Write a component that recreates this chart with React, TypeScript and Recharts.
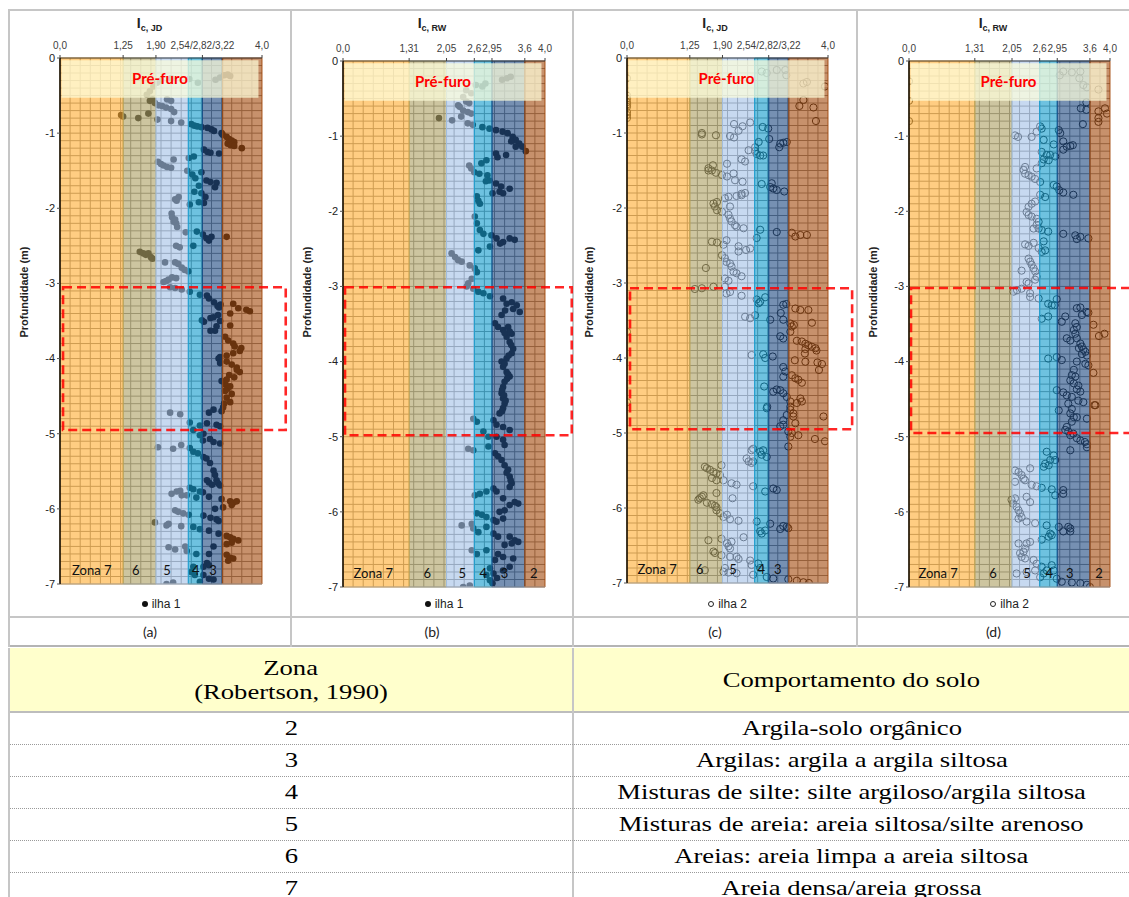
import React from "react";
import {
  ScatterChart,
  Scatter,
  XAxis,
  YAxis,
  CartesianGrid,
  ReferenceArea,
  ReferenceDot,
} from "recharts";

type Pt = [number, number];

// ilha 1, Ic (Jefferies & Davies) vs depth
const ilha1JD: Pt[] = [
  [1.85,-0.38],[1.92,-0.33],[2.0,-0.3],[2.2,-0.27],[2.56,-0.28],[2.73,-0.33],[3.08,-0.29],[3.17,-0.26],[3.25,-0.23],[3.32,-0.22],[3.37,-0.24],[1.72,-0.49],[1.78,-0.44],
  [1.78,-0.57],[1.83,-0.55],[1.88,-0.6],[1.95,-0.63],[2.02,-0.64],[2.1,-0.66],[2.2,-0.68],[2.26,-0.72],[2.12,-0.55],[2.2,-0.57],
  [1.21,-0.76],[1.25,-0.78],[1.55,-0.8],[1.75,-0.74],[1.93,-0.82],[2.2,-0.84],[2.4,-0.86],
  [2.6,-0.88],[2.66,-0.9],[2.72,-0.91],[2.8,-0.92],[2.92,-0.93],[3.0,-0.95],[3.05,-0.97],[3.2,-1.0],[3.22,-1.02],
  [3.3,-1.05],[3.35,-1.08],[3.4,-1.1],[3.45,-1.12],[3.32,-1.14],[3.38,-1.16],[3.45,-1.17],[3.6,-1.2],
  [2.85,-1.22],[2.92,-1.25],[2.98,-1.26],[3.15,-1.27],[2.55,-1.33],[2.65,-1.31],
  [1.94,-1.38],[2.0,-1.41],[2.05,-1.43],[2.12,-1.45],[2.2,-1.46],[2.25,-1.35],
  [2.52,-1.5],[2.62,-1.55],[2.68,-1.6],[2.8,-1.52],[2.9,-1.63],[2.98,-1.65],[3.1,-1.66],[3.07,-1.72],[2.75,-1.7],[2.66,-1.78],[2.8,-1.8],[2.88,-1.85],[2.35,-1.85],[2.28,-1.88],
  [2.31,-1.9],[2.57,-1.95],[2.75,-1.92],[2.85,-1.93],
  [2.21,-2.07],[2.22,-2.12],[2.25,-2.18],[2.3,-2.2],[2.32,-2.25],[2.28,-2.15],
  [2.49,-2.32],[2.71,-2.31],[2.83,-2.35],[2.9,-2.4],[2.95,-2.43],[3.0,-2.38],[3.3,-2.38],
  [2.3,-2.5],[2.37,-2.52],[2.64,-2.5],
  [1.58,-2.58],[1.65,-2.6],[1.7,-2.62],[1.75,-2.6],[1.8,-2.65],[1.83,-2.67],[2.08,-2.72],
  [2.28,-2.72],[2.34,-2.74],[2.41,-2.79],[2.47,-2.82],[2.54,-2.84],
  [2.05,-2.98],[2.1,-2.97],[2.15,-2.95],[2.22,-2.92],[2.3,-2.93],
  [2.18,-3.05],[2.28,-3.06],[2.41,-3.08],[2.57,-3.11],[2.77,-3.15],
  [2.91,-3.16],[2.95,-3.2],[3.05,-3.25],[3.12,-3.3],[3.15,-3.32],[3.18,-3.28],
  [3.43,-3.27],[3.53,-3.33],[3.69,-3.35],[3.76,-3.37],[3.37,-3.4],
  [2.81,-3.49],[2.85,-3.51],[2.98,-3.46],[3.04,-3.45],[3.1,-3.57],[3.07,-3.63],[2.98,-3.63],[3.13,-3.42],[3.17,-3.5],[3.37,-3.56],
  [3.27,-3.71],[3.33,-3.76],[3.43,-3.8],[3.46,-3.84],[3.59,-3.86],[3.56,-3.9],[3.43,-3.93],[3.3,-3.96],[3.17,-3.98],
  [3.14,-4.0],[3.17,-4.06],[3.3,-4.04],[3.4,-4.08],[3.5,-4.12],[3.56,-4.18],[3.5,-4.15],
  [3.35,-4.22],[3.45,-4.25],[3.28,-4.35],[3.32,-4.4],[3.25,-4.6],
  [3.2,-4.3],[3.3,-4.28],[3.37,-4.37],[3.27,-4.43],[3.4,-4.47],[3.3,-4.52],[3.37,-4.58],[3.23,-4.65],[3.2,-4.7],[3.04,-4.68],[2.95,-4.72],[2.38,-4.74],[2.18,-4.72],
  [2.57,-4.85],[2.77,-4.89],[2.91,-4.86],[3.1,-4.88],[3.17,-4.9],[2.64,-4.95],[2.84,-5.0],
  [2.77,-5.02],[2.83,-5.09],[2.97,-5.07],[3.04,-5.11],[3.17,-5.13],[1.94,-5.18],[2.24,-5.2],[2.4,-5.15],
  [2.57,-5.19],[2.64,-5.24],[2.73,-5.26],[2.84,-5.31],[2.9,-5.33],[2.97,-5.39],[3.04,-5.49],[3.07,-5.55],[3.1,-5.62],[3.13,-5.66],[3.17,-5.69],[2.91,-5.62],[2.95,-5.65],[3.01,-5.68],
  [2.57,-5.72],[2.64,-5.74],[2.77,-5.77],[2.83,-5.78],[2.51,-5.82],[2.21,-5.8],[2.31,-5.77],[2.38,-5.76],[2.41,-5.82],[2.7,-5.85],[2.95,-5.84],[3.2,-5.87],[3.37,-5.9],[3.43,-5.92],[3.5,-5.9],[3.4,-5.95],[3.23,-5.98],
  [2.28,-6.02],[2.34,-6.04],[2.44,-6.06],[2.55,-6.08],[2.84,-6.09],[2.98,-6.12],[3.07,-6.0],[3.1,-6.14],[3.14,-6.16],
  [1.88,-6.18],[2.15,-6.2],[2.11,-6.22],[2.4,-6.23],[2.64,-6.24],[2.77,-6.27],[2.95,-6.29],[3.14,-6.33],[3.3,-6.36],[3.37,-6.38],[3.43,-6.4],[3.53,-6.42],[3.4,-6.45],[3.3,-6.47],
  [2.15,-6.51],[2.28,-6.54],[2.48,-6.5],[2.51,-6.56],[2.7,-6.6],[2.95,-6.6],[3.04,-6.5],[3.3,-6.61],[3.37,-6.65],[3.43,-6.66],[3.33,-6.69],
  [2.91,-6.72],[2.95,-6.75],[2.84,-6.77],[2.64,-6.77],[2.6,-6.84],[2.67,-6.88],[2.84,-6.88],[2.95,-6.93],[3.04,-6.94],[2.77,-6.97],[2.11,-7.0],[2.24,-6.98],
];

// ilha 1, Ic (Robertson & Wride) vs depth
const ilha1RW: Pt[] = [
  [2.38,-0.48],[2.44,-0.39],[2.63,-0.32],[2.76,-0.34],[2.82,-0.3],[3.15,-0.25],[3.25,-0.23],[3.32,-0.21],[2.54,-0.43],
  [2.28,-0.59],[2.31,-0.61],[2.38,-0.66],[2.44,-0.54],[2.5,-0.56],[2.47,-0.68],[2.54,-0.7],[2.34,-0.74],[1.9,-0.76],[2.16,-0.79],
  [2.47,-0.83],[2.57,-0.85],[2.76,-0.88],[2.9,-0.9],[3.03,-0.92],[3.16,-0.94],[3.26,-0.96],[3.36,-1.01],[3.42,-1.05],[3.49,-1.1],[3.55,-1.14],[3.62,-1.2],[3.33,-1.07],[3.42,-1.14],
  [3.03,-1.23],[3.06,-1.28],[3.23,-1.25],[2.74,-1.36],[2.84,-1.32],[2.5,-1.39],[2.54,-1.43],[2.6,-1.48],[2.7,-1.5],[2.86,-1.52],[2.9,-1.59],[3.03,-1.63],[3.13,-1.67],[3.3,-1.7],[3.1,-1.74],[2.96,-1.76],[2.83,-1.6],
  [3.17,-1.76],[2.65,-1.8],[2.68,-1.86],[2.71,-1.9],
  [2.61,-2.07],[2.65,-2.16],[2.71,-2.25],[2.78,-2.3],[2.94,-2.32],[3.04,-2.36],[3.17,-2.41],[3.3,-2.36],[3.4,-2.38],[3.11,-2.43],[2.68,-2.52],[2.91,-2.47],
  [2.15,-2.56],[2.22,-2.61],[2.28,-2.65],[2.35,-2.67],[2.51,-2.72],[2.61,-2.76],[2.65,-2.81],[2.55,-2.9],[2.48,-2.96],[2.45,-3.0],[2.58,-3.03],[2.68,-3.07],[2.78,-3.09],[2.91,-3.13],
  [3.17,-3.16],[3.24,-3.23],[3.34,-3.21],[3.44,-3.25],[3.5,-3.34],[3.37,-3.3],[3.21,-3.32],[3.14,-3.38],[3.01,-3.49],[3.07,-3.54],[3.17,-3.58],[3.27,-3.54],[3.34,-3.63],[3.24,-3.67],[3.3,-3.74],[3.37,-3.83],[3.34,-3.89],[3.24,-3.96],[3.14,-4.0],[3.17,-4.07],[3.24,-4.14],[3.3,-4.2],[3.2,-4.27],[3.17,-4.34],[3.14,-4.42],[3.17,-4.49],[3.2,-4.56],[3.17,-4.62],[3.1,-4.69],
  [3.33,-3.78],[3.28,-3.92],[3.2,-4.03],[3.27,-4.17],[3.25,-4.23],[3.15,-4.38],[3.19,-4.45],[3.22,-4.52],[3.15,-4.66],[3.3,-3.6],[3.2,-3.62],
  [2.58,-4.76],[2.65,-4.8],[2.98,-4.78],[3.04,-4.84],[3.17,-4.87],[3.3,-4.91],[2.78,-4.93],[2.88,-5.0],[3.04,-5.0],[3.17,-5.04],[3.2,-5.11],[2.48,-5.16],[2.58,-5.18],[2.88,-5.13],
  [3.01,-5.22],[3.07,-5.26],[3.14,-5.31],[3.2,-5.38],[3.27,-5.44],[3.3,-5.53],[3.34,-5.62],[3.3,-5.67],[3.24,-5.48],[3.32,-5.58],
  [2.61,-5.78],[2.71,-5.76],[2.84,-5.73],[2.98,-5.69],[3.04,-5.73],[3.17,-5.82],[3.3,-5.91],[3.4,-5.87],[3.47,-5.89],[3.1,-6.0],[3.2,-5.98],[2.65,-6.02],[2.75,-6.04],[2.84,-6.07],[2.98,-6.11],[3.04,-6.13],[3.17,-6.09],
  [2.35,-6.18],[2.55,-6.16],[2.58,-6.22],[2.68,-6.27],[2.84,-6.2],[2.98,-6.29],[3.07,-6.33],[3.3,-6.33],[3.4,-6.38],[3.47,-6.4],[3.34,-6.42],[3.2,-6.44],[2.84,-6.51],[2.65,-6.56],[2.55,-6.51],[3.07,-6.56],[3.17,-6.6],[3.37,-6.62],[3.01,-6.64],[2.91,-6.75],[2.98,-6.82],[2.84,-6.84],[2.91,-6.91],[2.38,-7.0],[2.51,-6.98],[3.17,-6.78],[3.3,-6.73],[3.05,-6.88],[2.96,-6.95],
];

// ilha 2, Ic (Jefferies & Davies) vs depth
const ilha2JD: Pt[] = [
  [0,-0.27],[0,-0.5],[0,-0.54],[0,-0.59],[0,-0.65],[0,-0.72],[0,-0.76],[0,-0.8],[0,-0.62],
  [2.68,-0.18],[2.78,-0.2],[2.98,-0.16],[3.15,-0.16],[3.17,-0.23],[3.51,-0.34],[3.58,-0.32],[3.94,-0.38],
  [3.51,-0.56],[3.43,-0.64],[3.71,-0.66],[3.76,-0.84],
  [2.13,-0.88],[2.3,-0.91],[2.45,-0.86],[2.7,-0.92],[2.81,-0.94],[2.22,-0.97],[1.49,-1.0],[1.49,-1.02],[1.77,-1.03],[2.05,-1.04],[2.13,-1.06],[2.83,-1.08],[2.62,-1.12],[3.05,-1.14],[3.11,-1.13],[3.18,-1.12],[3.03,-1.19],[2.55,-1.19],[2.42,-1.23],[2.55,-1.24],[2.58,-1.28],[2.65,-1.3],[2.71,-1.3],[2.28,-1.35],[2.35,-1.38],[1.99,-1.41],[1.71,-1.43],[1.62,-1.47],[1.62,-1.5],[1.69,-1.5],[1.77,-1.53],[1.89,-1.56],[1.99,-1.58],[2.12,-1.54],[2.15,-1.63],[2.3,-1.65],[2.68,-1.68],[2.88,-1.67],[2.85,-1.72],[2.98,-1.76],[3.13,-1.78],[2.91,-1.74],[2.35,-1.8],[2.28,-1.83],
  [1.95,-1.87],[2.02,-1.85],[2.18,-1.84],[2.28,-1.81],[1.72,-1.94],[1.79,-1.92],[1.75,-1.98],[1.79,-2.03],[1.89,-2.05],[2.05,-1.98],[2.02,-2.09],[2.05,-2.14],[2.08,-2.18],[2.15,-2.23],[2.18,-2.25],[2.32,-2.27],[2.65,-2.29],[2.98,-2.32],[3.28,-2.33],[3.35,-2.38],[3.45,-2.36],[3.58,-2.36],[2.58,-2.4],[1.98,-2.43],[1.69,-2.45],[1.79,-2.46],[2.22,-2.51],[2.22,-2.58],[2.37,-2.56],[2.45,-2.54],[1.92,-2.49],[1.89,-2.63],[1.95,-2.67],[1.98,-2.72],[2.05,-2.74],[2.08,-2.78],[2.12,-2.85],[2.18,-2.87],[2.28,-2.91],[1.57,-2.8],[1.95,-2.94],[2.02,-2.97],[1.95,-3.05],[1.98,-3.14],[2.05,-3.12],[2.28,-3.17],[1.35,-3.08],[1.49,-3.07],[1.72,-3.05],
  [2.58,-3.22],[2.65,-3.25],[2.62,-3.27],[2.75,-3.19],[2.35,-3.45],[2.45,-3.47],[2.55,-3.43],[2.85,-3.49],[3.11,-3.29],[3.17,-3.28],[3.06,-3.4],[3.11,-3.49],[3.25,-3.54],[3.28,-3.58],[3.32,-3.56],[3.35,-3.34],[3.45,-3.36],[3.61,-3.36],[3.68,-3.53],[3.05,-3.71],[3.11,-3.74],[3.25,-3.65],[3.38,-3.77],[3.48,-3.78],[3.55,-3.81],[3.61,-3.83],[3.68,-3.85],[3.75,-3.87],[3.77,-3.9],[3.55,-3.88],[3.54,-3.94],[3.34,-4.03],[3.55,-4.05],[3.79,-4.06],[3.88,-4.08],[3.82,-4.16],[2.48,-3.96],[2.71,-3.95],[2.9,-3.98],[2.75,-4.0],[3.11,-4.12],[3.15,-4.18],[3.11,-4.25],[3.28,-4.23],[3.35,-4.27],[3.41,-4.29],[3.48,-4.33],[2.73,-4.38],[2.91,-4.45],[2.98,-4.42],[3.05,-4.43],[3.11,-4.47],[3.18,-4.52],[3.25,-4.58],[3.45,-4.54],[3.48,-4.58],[2.78,-4.67],[3.25,-4.65],[3.91,-4.78],[0,-3.65],[0,-4.59],
  [2.79,-4.65],[3.11,-4.83],[3.18,-4.76],[3.25,-4.69],[3.31,-4.74],[3.38,-4.6],[3.31,-4.78],[3.35,-4.87],[3.11,-4.89],[3.05,-4.91],[3.21,-4.98],[3.25,-5.05],[3.28,-5.0],[3.41,-5.03],[3.21,-5.18],[3.74,-5.08],[3.94,-5.11],
  [2.48,-5.23],[2.51,-5.21],[2.65,-5.25],[2.68,-5.29],[2.71,-5.23],[2.78,-5.32],[2.38,-5.34],[2.42,-5.38],[2.48,-5.4],[2.51,-5.38],
  [1.55,-5.45],[1.59,-5.47],[1.65,-5.49],[1.72,-5.52],[1.78,-5.54],[1.85,-5.56],[1.88,-5.43],[1.92,-5.63],[1.69,-5.6],[1.78,-5.63],[2.08,-5.67],[2.18,-5.69],[2.1,-5.87],[2.51,-5.71],[2.75,-5.78],[2.91,-5.74],[2.98,-5.76],[1.78,-5.8],[1.49,-5.85],[1.52,-5.83],[1.42,-5.89],[1.45,-5.87],[1.59,-5.93],[1.69,-5.95],[1.75,-5.97],[1.78,-5.99],[1.78,-6.03],[1.85,-6.07],[1.92,-6.12],[1.99,-6.09],[2.05,-6.15],[2.22,-6.17],[2.32,-6.39],[2.58,-6.18],[2.65,-6.31],[2.68,-6.34],[2.75,-6.3],[2.85,-6.21],[3.11,-6.24],[3.18,-6.25],[3.05,-6.28],[3.21,-6.27],
  [1.62,-6.43],[1.88,-6.41],[1.99,-6.47],[2.02,-6.51],[2.05,-6.54],[2.08,-6.45],[1.72,-6.58],[1.75,-6.6],[1.88,-6.63],[2.05,-6.65],[2.18,-6.65],[2.22,-6.68],[2.45,-6.7],[2.48,-6.76],[2.61,-6.74],[2.65,-6.8],[2.18,-6.87],[2.02,-6.86],[1.92,-6.85],[1.95,-6.8],[1.55,-6.83],[2.51,-6.89],[2.78,-6.92],[2.91,-6.94],[3.21,-6.95],[3.38,-6.97],[3.51,-6.99],[3.62,-7.0],
];

// ilha 2, Ic (Robertson & Wride) vs depth
const ilha2RW: Pt[] = [
  [0,-0.27],[0,-0.53],[0,-0.8],
  [3.0,-0.19],[3.07,-0.14],[3.24,-0.15],[3.41,-0.14],[3.39,-0.23],[3.47,-0.32],[3.54,-0.35],[3.77,-0.38],
  [3.53,-0.55],[3.42,-0.63],[3.53,-0.65],[3.77,-0.67],[3.9,-0.63],[3.94,-0.7],[3.77,-0.76],[3.77,-0.81],[3.46,-0.84],
  [2.61,-0.87],[2.64,-0.9],[2.54,-0.94],[2.44,-1.01],[2.11,-0.99],[2.17,-1.01],[2.68,-1.05],[2.98,-0.92],[3.01,-0.96],[3.07,-1.07],[3.14,-1.14],[3.21,-1.13],[3.26,-1.12],[3.07,-1.18],[2.88,-1.11],[2.64,-1.21],[2.74,-1.25],[2.81,-1.25],[2.91,-1.27],[2.68,-1.31],[2.78,-1.32],[2.64,-1.36],[2.54,-1.43],[2.31,-1.41],[2.28,-1.45],[2.31,-1.5],[2.38,-1.52],[2.44,-1.54],[2.51,-1.57],[2.61,-1.61],[2.88,-1.65],[2.94,-1.67],[2.99,-1.72],[3.07,-1.75],[3.27,-1.78],[2.61,-1.78],
  [2.71,-1.81],[2.51,-1.87],[2.44,-1.9],[2.38,-1.94],[2.34,-2.01],[2.38,-2.05],[2.44,-2.07],[2.54,-2.1],[2.58,-2.14],[2.54,-2.18],[2.58,-2.23],[2.48,-2.23],[2.64,-2.25],[2.77,-2.27],[3.07,-2.3],[3.31,-2.32],[3.34,-2.37],[3.41,-2.34],[3.57,-2.36],[2.68,-2.4],[2.48,-2.42],[2.31,-2.44],[2.38,-2.46],[2.58,-2.49],[2.64,-2.54],[2.71,-2.52],[2.38,-2.63],[2.41,-2.67],[2.44,-2.71],[2.48,-2.76],[2.51,-2.8],[2.54,-2.87],[2.51,-2.91],[2.24,-2.79],[2.34,-2.94],[2.38,-2.96],[2.08,-3.07],[2.15,-3.05],[2.24,-3.03],[2.41,-3.09],[2.41,-3.14],[2.58,-3.16],[2.77,-3.23],[2.84,-3.25],[2.94,-3.17],[2.9,-3.25],[2.64,-3.43],[2.77,-3.4],[3.04,-3.47],[3.11,-3.4],[3.34,-3.29],[3.41,-3.28],[3.44,-3.38],[3.54,-3.34],[3.57,-3.35],[3.31,-3.49],[3.34,-3.54],[3.28,-3.58],[3.31,-3.63],[3.14,-3.69],[3.21,-3.72],[3.34,-3.69],[3.41,-3.76],[3.44,-3.8],[3.47,-3.84],[3.51,-3.87],[3.54,-3.92],[3.44,-3.9],[3.38,-3.82],[3.67,-3.51],[3.78,-3.66],[3.89,-3.63],[2.77,-3.96],[2.94,-3.94],[3.04,-3.98],[3.34,-4.0],[3.51,-4.03],[3.57,-4.05],[3.28,-4.11],[3.24,-4.18],[3.31,-4.2],[3.21,-4.25],[3.28,-4.29],[3.37,-4.32],[3.34,-4.37],[3.41,-4.4],[3.67,-4.15],[2.94,-4.38],[3.07,-4.41],[3.14,-4.45],[3.24,-4.47],[3.37,-4.52],[3.47,-4.54],[3.69,-4.58],[2.98,-4.65],[3.21,-4.69],[3.28,-4.74],[3.54,-4.76],
  [3.17,-4.56],[3.24,-4.63],[3.34,-4.74],[3.24,-4.8],[3.14,-4.87],[3.11,-4.91],[3.17,-4.93],[3.21,-4.98],[3.27,-4.96],[3.34,-5.02],[3.41,-5.05],[3.5,-5.07],[3.54,-5.14],[3.71,-4.58],[3.21,-5.18],[3.54,-5.1],
  [2.74,-5.2],[2.88,-5.25],[2.91,-5.31],[2.81,-5.31],[2.71,-5.36],[2.78,-5.38],[2.68,-5.4],[2.41,-5.42],[2.11,-5.45],[2.18,-5.47],[2.24,-5.51],[2.28,-5.56],[2.31,-5.58],[2.11,-5.6],[2.44,-5.64],[2.54,-5.66],[2.64,-5.68],[2.84,-5.7],[3.07,-5.71],[3.07,-5.76],[2.91,-5.78],[2.34,-5.8],[2.41,-5.87],[2.04,-5.84],[2.07,-5.89],[2.11,-5.82],[2.14,-5.93],[2.18,-5.98],[2.21,-6.02],[2.24,-6.07],[2.18,-6.09],[2.34,-6.13],[2.51,-6.15],[2.74,-6.18],[2.98,-6.2],[3.07,-6.26],[3.17,-6.2],[3.21,-6.22],[3.21,-6.26],[2.64,-6.37],[2.78,-6.33],[2.81,-6.29],[2.84,-6.31],[2.41,-6.4],[2.34,-6.42],[2.18,-6.42],[2.31,-6.49],[2.28,-6.53],[2.21,-6.55],[2.24,-6.6],[2.31,-6.62],[2.48,-6.64],[2.54,-6.69],[2.64,-6.73],[2.74,-6.78],[2.84,-6.71],[2.88,-6.78],[2.68,-6.82],[2.61,-6.87],[2.51,-6.78],[2.14,-6.82],[2.34,-6.8],[2.94,-6.89],[3.04,-6.93],[3.24,-6.94],[3.41,-6.95],[3.54,-6.97],[3.6,-7.0],
];

// zone limits (zona 7 .. zona 2)
const jdLimits = [0, 1.25, 1.9, 2.54, 2.82, 3.22, 4.0];
const rwLimits = [0, 1.31, 2.05, 2.6, 2.95, 3.6, 4.0];
const zoneFills = ["#FFAB2E", "#AB9E61", "#A1BFE6", "#0E9ACB", "#1A467E", "#A1480A"];
const zoneNames = ["Zona 7", "6", "5", "4", "3", "2"];

const jdTicks = [0, 1.25, 1.9, 2.82, 4.0];
const jdTickLabels = ["0,0", "1,25", "1,90", "2,54/2,82/3,22", "4,0"];
const rwTicks = [0, 1.31, 2.05, 2.6, 2.95, 3.6, 4.0];
const rwTickLabels = ["0,0", "1,31", "2,05", "2,6", "2,95", "3,6", "4,0"];
const depthTicks = [0, -1, -2, -3, -4, -5, -6, -7];

// where the zone names sit (Ic), one list per panel
const zoneLabelA = [0.63, 1.5, 2.12, 2.69, 3.03];
const zoneLabelB = [0.6, 1.67, 2.36, 2.78, 3.2, 3.78];
const zoneLabelC = [0.6, 1.45, 2.11, 2.67, 3.0];
const zoneLabelD = [0.58, 1.67, 2.35, 2.79, 3.2, 3.78];

// pre-drilled zone and the dashed study window (Ic range, depth range)
const preFuro = { x: [0.03, 3.93], z: [-0.53, -0.03] };
const boxA = { x: [0.06, 4.47], z: [-4.95, -3.05] };
const boxB = { x: [0.04, 4.53], z: [-4.98, -3.01] };
const boxC = { x: [0.06, 4.48], z: [-4.95, -3.07] };
const boxD = { x: [0.04, 4.7], z: [-4.95, -3.02] };

const gridIc = Array.from({ length: 19 }, (_, i) => (i + 1) * 0.2);
const gridZ = Array.from({ length: 69 }, (_, i) => -(i + 1) * 0.1);

const sans = "'Liberation Sans', Arial, sans-serif";
const calibri = "Lato, 'Open Sans', sans-serif";
const serif = "'Liberation Serif', 'Times New Roman', serif";

type PanelCfg = {
  left: number;
  width: number;
  topH: number;
  yW: number;
  botH: number;
  right: number;
  data: Pt[];
  limits: number[];
  ticks: number[];
  tickLabels: string[];
  hollow: boolean;
  sub: string;
  legend: string;
  caption: string;
  labels: number[];
  box: { x: number[]; z: number[] };
};

const panels: PanelCfg[] = [
  { left: 8, width: 283, topH: 48, yW: 52, botH: 33, right: 29, data: ilha1JD, limits: jdLimits, ticks: jdTicks, tickLabels: jdTickLabels, hollow: false, sub: "c, JD", legend: "ilha 1", caption: "(a)", labels: zoneLabelA, box: boxA },
  { left: 291, width: 282, topH: 51, yW: 52, botH: 30, right: 28, data: ilha1RW, limits: rwLimits, ticks: rwTicks, tickLabels: rwTickLabels, hollow: false, sub: "c, RW", legend: "ilha 1", caption: "(b)", labels: zoneLabelB, box: boxB },
  { left: 573, width: 284, topH: 48, yW: 54, botH: 34, right: 29, data: ilha2JD, limits: jdLimits, ticks: jdTicks, tickLabels: jdTickLabels, hollow: true, sub: "c, JD", legend: "ilha 2", caption: "(c)", labels: zoneLabelC, box: boxC },
  { left: 857, width: 272, topH: 51, yW: 52, botH: 30, right: 19, data: ilha2RW, limits: rwLimits, ticks: rwTicks, tickLabels: rwTickLabels, hollow: true, sub: "c, RW", legend: "ilha 2", caption: "(d)", labels: zoneLabelD, box: boxD },
];

const rows = [
  ["2", "Argila-solo orgânico"],
  ["3", "Argilas: argila a argila siltosa"],
  ["4", "Misturas de silte: silte argiloso/argila siltosa"],
  ["5", "Misturas de areia: areia siltosa/silte arenoso"],
  ["6", "Areias: areia limpa a areia siltosa"],
  ["7", "Areia densa/areia grossa"],
];

const H = 607;

function Panel({ cfg }: { cfg: PanelCfg }) {
  const data = cfg.data.map(([ic, z]) => ({ ic, z }));
  const plotL = cfg.yW;
  const plotR = cfg.width - cfg.right;
  const plotW = plotR - plotL;

  const vGen = (p: any) => {
    const ax = p?.xAxis;
    if (ax && typeof ax.scale === "function") return gridIc.map((v) => ax.scale(v));
    const o = p.offset;
    return gridIc.map((v) => o.left + (v / 4) * o.width);
  };
  const hGen = (p: any) => {
    const ax = p?.yAxis;
    if (ax && typeof ax.scale === "function") return gridZ.map((v) => ax.scale(v));
    const o = p.offset;
    return gridZ.map((v) => o.top + (-v / 7) * o.height);
  };

  const shape = (p: any) =>
    cfg.hollow ? (
      <circle cx={p.cx} cy={p.cy} r={3.6} fill="none" stroke="#1a1a1a" strokeWidth={1} />
    ) : (
      <circle cx={p.cx} cy={p.cy} r={3.3} fill="#141414" />
    );

  return (
    <div style={{ position: "absolute", left: cfg.left, top: 10, width: cfg.width, height: H }}>
      <ScatterChart width={cfg.width} height={H} margin={{ top: 0, right: cfg.right, bottom: 0, left: 0 }}>
        <CartesianGrid
          xAxisId="top"
          stroke="#858585"
          strokeWidth={1}
          verticalCoordinatesGenerator={vGen}
          horizontalCoordinatesGenerator={hGen}
        />
        <XAxis
          xAxisId="top"
          type="number"
          dataKey="ic"
          orientation="top"
          domain={[0, 4]}
          allowDataOverflow
          ticks={cfg.ticks}
          interval={0}
          tickFormatter={(v: number) => cfg.tickLabels[cfg.ticks.indexOf(v)] ?? ""}
          height={cfg.topH}
          axisLine={{ stroke: "#404040" }}
          tickLine={{ stroke: "#404040" }}
          tickSize={3}
          tickMargin={6}
          tick={{ fontSize: 10, fill: "#404040", fontFamily: sans }}
          zIndex={850}
        />
        <XAxis
          xAxisId="bot"
          type="number"
          orientation="bottom"
          domain={[0, 4]}
          allowDataOverflow
          ticks={cfg.limits}
          interval={0}
          tick={false}
          tickSize={4}
          height={cfg.botH}
          axisLine={{ stroke: "#a0a0a0" }}
          tickLine={{ stroke: "#a0a0a0" }}
          zIndex={850}
        />
        <YAxis
          type="number"
          dataKey="z"
          domain={[-7, 0]}
          allowDataOverflow
          ticks={depthTicks}
          interval={0}
          width={cfg.yW}
          axisLine={{ stroke: "#000", strokeWidth: 1.5 }}
          tickLine={{ stroke: "#555" }}
          tickSize={3}
          tick={{ fontSize: 11, fill: "#222", fontFamily: sans }}
          zIndex={850}
        />
        <Scatter xAxisId="top" data={data} shape={shape} isAnimationActive={false} />
        {cfg.limits.slice(0, -1).map((x1, i) => (
          <ReferenceArea
            key={"z" + i}
            xAxisId="top"
            x1={x1}
            x2={cfg.limits[i + 1]}
            y1={-7}
            y2={0}
            fill={zoneFills[i]}
            fillOpacity={0.6}
            stroke={zoneFills[i]}
            strokeOpacity={0.9}
            strokeWidth={1}
            zIndex={650}
          />
        ))}
        <ReferenceArea
          xAxisId="top"
          x1={preFuro.x[0]}
          x2={preFuro.x[1]}
          y1={preFuro.z[0]}
          y2={preFuro.z[1]}
          fill="#FFFFDC"
          fillOpacity={0.7}
          stroke="none"
          zIndex={700}
          label={{ value: "Pré-furo", position: "center", fill: "#FF0000", fontSize: 15, fontWeight: 700, fontFamily: calibri }}
        />
        <ReferenceArea
          xAxisId="top"
          x1={cfg.box.x[0]}
          x2={cfg.box.x[1]}
          y1={cfg.box.z[0]}
          y2={cfg.box.z[1]}
          ifOverflow="visible"
          fill="none"
          fillOpacity={0}
          stroke="#FF0000"
          strokeOpacity={0.85}
          strokeWidth={2.6}
          strokeDasharray="9 5"
          zIndex={800}
        />
        {cfg.labels.map((x, i) => (
          <ReferenceDot
            key={"l" + i}
            xAxisId="top"
            x={x}
            y={-6.82}
            r={0}
            fill="none"
            stroke="none"
            zIndex={900}
            label={{ value: zoneNames[i], position: "center", fill: "#111", fontSize: 13, fontFamily: calibri }}
          />
        ))}
      </ScatterChart>

      <div
        style={{
          position: "absolute",
          top: 4,
          left: 0,
          width: cfg.width,
          textAlign: "center",
          fontFamily: sans,
          fontWeight: 700,
          fontSize: 14,
          color: "#222",
          lineHeight: "18px",
        }}
      >
        I<sub style={{ fontSize: 9, verticalAlign: "-3px" }}>{cfg.sub}</sub>
      </div>

      <div
        style={{
          position: "absolute",
          left: 16 - 100,
          top: 282 - 8,
          width: 200,
          height: 16,
          lineHeight: "16px",
          textAlign: "center",
          transform: "rotate(-90deg)",
          fontFamily: sans,
          fontWeight: 700,
          fontSize: 11,
          color: "#222",
        }}
      >
        Profundidade (m)
      </div>

      <div
        style={{
          position: "absolute",
          left: plotL,
          width: plotW,
          top: 586,
          height: 16,
          display: "flex",
          justifyContent: "center",
          alignItems: "center",
          fontFamily: sans,
          fontSize: 12,
          color: "#222",
        }}
      >
        <span
          style={{
            display: "inline-block",
            width: 6,
            height: 6,
            borderRadius: 3,
            boxSizing: "border-box",
            background: cfg.hollow ? "transparent" : "#111",
            border: cfg.hollow ? "1px solid #222" : "none",
            marginRight: 4,
          }}
        />
        {cfg.legend}
      </div>
    </div>
  );
}

const cellText: React.CSSProperties = {
  display: "inline-block",
  transform: "scaleX(1.21)",
  transformOrigin: "center",
  whiteSpace: "nowrap",
};

export default function App() {
  const frame = "#C6C6C6";
  const cols = [8, 290, 572, 856];
  return (
    <div style={{ position: "absolute", left: 0, top: 0, width: 1129, height: 897, overflow: "hidden", background: "#fff" }}>
      {/* figure frame */}
      <div style={{ position: "absolute", left: 8, top: 9, width: 1121, height: 2, background: frame }} />
      <div style={{ position: "absolute", left: 8, top: 616, width: 1121, height: 2, background: frame }} />
      <div style={{ position: "absolute", left: 8, top: 645, width: 1121, height: 2, background: "#B4B4B4" }} />
      {cols.map((x) => (
        <div key={x} style={{ position: "absolute", left: x, top: 9, width: 2, height: 638, background: frame }} />
      ))}

      {panels.map((p) => (
        <Panel key={p.caption} cfg={p} />
      ))}

      {panels.map((p, i) => (
        <div
          key={"c" + i}
          style={{
            position: "absolute",
            left: cols[i] + 2,
            width: (cols[i + 1] ?? 1129) - cols[i] - 2,
            top: 620,
            height: 24,
            lineHeight: "24px",
            textAlign: "center",
            fontFamily: calibri,
            fontSize: 14,
            color: "#222",
          }}
        >
          {p.caption}
        </div>
      ))}

      {/* table */}
      <div style={{ position: "absolute", left: 8, top: 648, width: 1121, height: 63, background: "#FFFFCC" }} />
      <div style={{ position: "absolute", left: 8, top: 711, width: 1121, height: 2, background: "#BDBDBD" }} />
      <div style={{ position: "absolute", left: 8, top: 648, width: 2, height: 249, background: "#C6C6C6" }} />
      <div style={{ position: "absolute", left: 572, top: 648, width: 2, height: 249, background: "#C6C6C6" }} />
      <div
        style={{
          position: "absolute",
          left: 10,
          width: 562,
          top: 648,
          height: 63,
          display: "flex",
          flexDirection: "column",
          justifyContent: "center",
          alignItems: "center",
          fontFamily: serif,
          fontSize: 22,
          lineHeight: "24px",
          color: "#000",
        }}
      >
        <div style={cellText}>Zona</div>
        <div style={cellText}>(Robertson, 1990)</div>
      </div>
      <div
        style={{
          position: "absolute",
          left: 574,
          width: 555,
          top: 648,
          height: 63,
          display: "flex",
          justifyContent: "center",
          alignItems: "center",
          fontFamily: serif,
          fontSize: 22,
          color: "#000",
        }}
      >
        <span style={cellText}>Comportamento do solo</span>
      </div>
      {rows.map(([z, txt], i) => (
        <React.Fragment key={z}>
          <div
            style={{
              position: "absolute",
              left: 10,
              width: 1119,
              top: 713 + i * 32 + 31,
              height: 0,
              borderTop: "1px dotted #9a9a9a",
            }}
          />
          <div
            style={{
              position: "absolute",
              left: 10,
              width: 562,
              top: 713 + i * 32,
              height: 31,
              lineHeight: "30px",
              textAlign: "center",
              fontFamily: serif,
              fontSize: 22,
              color: "#000",
            }}
          >
            <span style={cellText}>{z}</span>
          </div>
          <div
            style={{
              position: "absolute",
              left: 574,
              width: 555,
              top: 713 + i * 32,
              height: 31,
              lineHeight: "30px",
              textAlign: "center",
              fontFamily: serif,
              fontSize: 22,
              color: "#000",
            }}
          >
            <span style={cellText}>{txt}</span>
          </div>
        </React.Fragment>
      ))}
    </div>
  );
}
